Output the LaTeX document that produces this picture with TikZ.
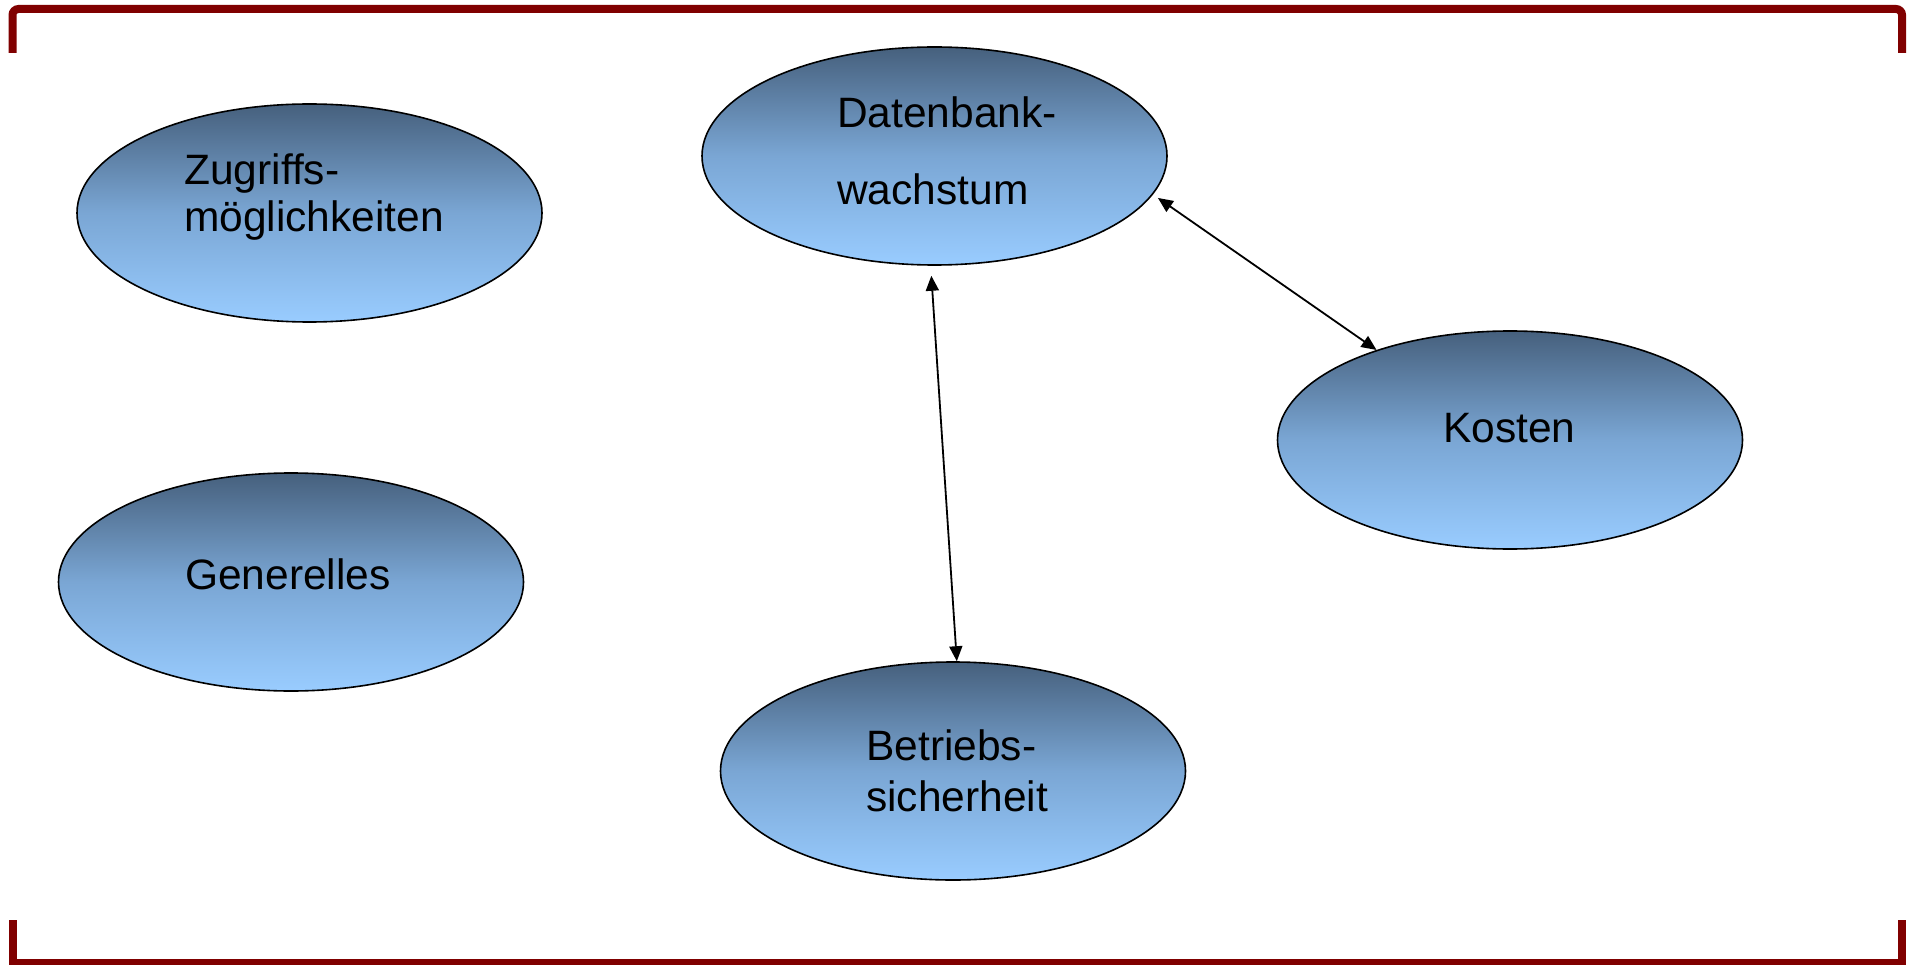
\documentclass[tikz,border=0pt]{standalone}
\usepackage{fontspec}
\setmainfont{Liberation Sans}
\usetikzlibrary{shapes.geometric,arrows.meta}
\definecolor{framered}{HTML}{800000}
\definecolor{ovaltop}{HTML}{46607D}
\definecolor{ovalmid}{HTML}{7AA6D4}
\definecolor{ovalbottom}{HTML}{99CCFF}
\tikzset{
  oval/.style={ellipse, draw=black, line width=1.6pt, inner sep=0pt,
    minimum width=465pt, minimum height=218pt,
    top color=ovaltop, bottom color=ovalbottom, middle color=ovalmid},
  label/.style={anchor=base west, inner sep=0pt, font=\fontsize{42.5}{42.5}\selectfont},
  link/.style={line width=1.8pt, {Triangle[length=15pt,width=13pt]}-{Triangle[length=15pt,width=13pt]}},
  bracket/.style={draw=framered, line width=8pt}
}
\begin{document}
\begin{tikzpicture}[x=1pt,y=-1pt]
\useasboundingbox (0,0) rectangle (1910,965);

% corner brackets of the frame
\draw[bracket, rounded corners=6pt] (12.5,53) -- (12.5,9) -- (1902,9) -- (1902,53);
\draw[bracket, miter limit=10] (12.5,920) -- (12.5,963) -- (1902,963) -- (1902,920);

% topic ovals
\node[oval] (zug) at (309.5,213) {};
\node[oval] (db)  at (934.5,156) {};
\node[oval] (kos) at (1510,440) {};
\node[oval] (gen) at (291,582) {};
\node[oval] (bet) at (953,771) {};

% labels
\node[label] (zug1) at (184,185) {Zugriffs-};
\node[label] (zug2) at (184,232) {möglichkeiten};
\node[label] (db1)  at (837,128) {Datenbank-};
\node[label] (db2)  at (837,205) {wachstum};
\node[label] (kos1) at (1443,442) {Kosten};
\node[label] (gen1) at (185,589) {Generelles};
\node[label] (bet1) at (866,760) {Betriebs-};
\node[label] (bet2) at (866,811) {sicherheit};

% relations
\draw[link, shorten <=6pt] (db.-10.3) -- (kos.146.7);
\draw[link, shorten <=10pt] (db.-92) -- (bet.88);
\end{tikzpicture}
\end{document}
